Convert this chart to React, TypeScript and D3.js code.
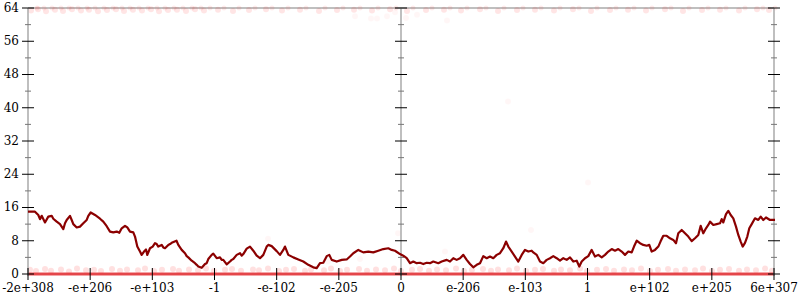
import React from "react";
import * as d3 from "d3";

// x tick labels (evenly spaced in the float-bit ordering)
const xTickLabels = ["-2e+308", "-e+206", "-e+103", "-1", "-e-102", "-e-205", "0", "e-206", "e-103", "1", "e+102", "e+205", "6e+307"];
const yTicks = [0, 4, 8, 12, 16, 20, 24, 28, 32, 36, 40, 44, 48, 52, 56, 60, 64];
const yLabelTicks = [0, 8, 16, 24, 32, 40, 48, 56, 64];

// moving average: [bin, value]; bins 0..746
const movingAverage: [number, number][] = [
  [0, 15.0], [7, 15.0], [10.3, 14.2], [12, 13.2], [13.7, 14.0], [17, 12.4], [20.3, 13.8], [23.7, 14.0],
  [25.3, 13.3], [28.7, 12.6], [32, 12.0], [35.3, 10.8], [37, 12.2], [38.7, 13.0], [42, 14.0], [43.7, 13.0],
  [45.3, 12.0], [48.7, 11.2], [52, 11.4], [55.3, 12.2], [58.7, 13.0], [60.3, 14.0], [62.7, 14.8], [67, 14.2],
  [72, 13.3], [75.3, 12.6], [78.7, 11.5], [82, 10.2], [85.3, 10.0], [88.7, 10.2], [91.3, 9.9], [93.7, 11.0],
  [97, 11.6], [99.3, 11.2], [102, 10.2], [105.3, 10.0], [107, 9.0], [109.3, 6.6], [112, 5.4], [113.7, 4.6],
  [116, 5.4], [118, 5.9], [119.3, 4.6], [122, 6.2], [124.7, 6.6], [127, 7.4], [128.7, 7.2], [130.3, 6.6],
  [133.7, 7.0], [135.3, 6.4], [137, 6.2], [140.3, 7.0], [142, 7.2], [143.7, 7.5], [148.5, 8.0], [150.3, 7.0],
  [153.7, 5.8], [157, 5.0], [158.7, 4.3], [160.3, 4.0], [163.7, 3.2], [167, 2.6], [168.7, 2.2], [170.3, 1.8],
  [173.7, 1.5], [177, 2.4], [178.7, 2.6], [180.3, 3.6], [183.7, 4.6], [185.3, 4.9], [188.7, 3.8], [192, 4.0],
  [193.7, 3.4], [195.3, 3.4], [198.7, 2.3], [202, 3.0], [203.7, 3.4], [205.3, 3.6], [208.7, 4.6], [212, 5.0],
  [213.7, 4.4], [215.3, 4.8], [218.7, 6.1], [222, 6.6], [225.3, 5.6], [228.7, 4.4], [232, 3.8], [235.3, 4.6],
  [238.7, 6.6], [240.3, 7.0], [243.7, 6.7], [248.7, 5.5], [252, 4.6], [255.3, 5.8], [257, 6.6], [260.3, 4.6],
  [265.3, 4.0], [270.3, 3.5], [275.3, 3.0], [280.3, 2.2], [285.3, 1.6], [288.7, 1.4], [292, 2.6], [295.3, 2.7],
  [298.7, 4.3], [301.3, 4.6], [303.7, 3.4], [308.7, 3.0], [313.7, 3.4], [318.7, 3.5], [322, 4.2], [325.3, 5.0],
  [330.3, 5.8], [335.3, 5.2], [340.3, 5.4], [345.3, 5.2], [350.3, 5.6], [355.3, 6.0], [360.3, 6.2], [363.7, 5.8],
  [367, 5.6], [372, 4.8], [375.3, 4.4], [378.7, 3.8], [382, 2.6], [385.3, 3.0], [388.7, 2.6], [392, 2.7],
  [395.3, 2.4], [398.7, 2.7], [402, 2.6], [405.3, 3.0], [410.3, 2.6], [413.7, 3.0], [418.7, 3.4], [422, 3.0],
  [425.3, 3.8], [428.7, 3.4], [432, 3.8], [435.3, 4.6], [438.7, 3.4], [442, 2.4], [445.3, 1.6], [448.7, 2.2],
  [452, 2.6], [455.3, 4.3], [458.7, 3.8], [462, 4.2], [465.3, 3.8], [468.7, 4.6], [472, 5.0], [475.3, 6.2],
  [478, 7.8], [480.3, 6.6], [483.7, 5.4], [487, 4.2], [490.3, 3.0], [493.7, 4.6], [497, 5.8], [500.3, 5.4],
  [503.7, 5.6], [505.3, 5.2], [508.7, 4.6], [512, 3.0], [515.3, 2.6], [518.7, 3.4], [522, 3.8], [525.3, 4.3],
  [528.7, 3.8], [532, 3.2], [535.3, 3.8], [538.7, 3.4], [542, 4.0], [545.3, 3.0], [548.7, 3.2], [551.3, 1.8],
  [553.7, 3.0], [557, 3.8], [560.3, 4.3], [563.7, 5.8], [567, 4.2], [570.3, 4.6], [573.7, 4.0], [577, 4.6],
  [580.3, 5.4], [583.7, 6.0], [587, 5.6], [590.3, 6.0], [593.7, 5.4], [597, 4.6], [600.3, 5.4], [603.7, 5.2],
  [606, 6.6], [608.7, 8.0], [612, 7.4], [615.3, 7.0], [618.7, 6.8], [621.3, 7.0], [623.7, 5.4], [627, 5.8],
  [630.3, 6.6], [632.5, 7.8], [635.3, 9.2], [638.7, 9.2], [642, 8.6], [645.3, 8.2], [648, 7.4], [650.3, 9.8],
  [653.7, 10.6], [657, 9.8], [660.3, 9.0], [663.7, 7.9], [667, 8.6], [670.3, 9.4], [672.7, 11.6], [675.3, 9.8],
  [678, 11.0], [680.3, 11.8], [682, 12.6], [685.3, 11.8], [688.7, 12.0], [692, 12.2], [693.7, 13.2], [695.3, 12.4],
  [698, 14.4], [700.3, 15.2], [702.7, 14.2], [705.3, 13.4], [708, 11.4], [710.3, 9.4], [712.7, 7.8], [714.7, 6.6],
  [717, 7.5], [719.3, 9.0], [721.3, 11.0], [723.7, 12.0], [727, 13.4], [730.3, 13.0], [732.7, 13.8], [735.3, 13.0],
  [738, 13.6], [742, 13.0], [747, 13.0],
];

// faint sample dots just above zero: [bin, value]
const lowDots: [number, number][] = [
  [2, 1.0], [8, 0.7], [17, 1.2], [23, 0.8], [33, 1.1], [41, 0.6], [49, 1.3], [58, 0.9], [66, 1.0], [73, 0.7],
  [84, 1.2], [92, 0.8], [99, 1.1], [110, 0.9], [117, 1.3], [126, 0.7], [134, 1.0], [145, 1.2], [151, 0.8], [161, 1.1],
  [170, 0.9], [178, 1.3], [186, 0.7], [197, 1.0], [204, 1.2], [213, 0.8], [225, 1.1], [231, 0.9], [240, 1.3], [251, 0.7],
  [258, 1.0], [266, 1.2], [277, 0.8], [283, 1.1], [296, 0.9], [303, 1.3], [312, 0.7], [319, 1.0], [331, 1.2], [339, 0.8],
  [348, 1.1], [357, 0.9], [366, 1.3], [373, 0.7], [384, 1.0], [392, 1.2], [401, 0.8], [409, 1.1], [418, 0.9], [428, 1.3],
  [436, 0.7], [444, 1.0], [455, 1.2], [463, 0.8], [470, 1.1], [481, 0.9], [489, 1.3], [498, 0.7], [507, 1.0], [515, 1.2],
  [526, 0.8], [533, 1.1], [542, 0.9], [552, 1.3], [559, 0.7], [569, 1.0], [578, 1.2], [586, 0.8], [596, 1.1], [604, 0.9],
  [613, 1.3], [622, 0.7], [630, 1.0], [640, 1.2], [648, 0.8], [657, 1.1], [667, 0.9], [675, 1.3], [684, 0.7], [692, 1.0],
  [701, 1.2], [711, 0.8], [719, 1.1], [728, 0.9], [737, 1.3], [744, 0.8],
];

// faint sample dots near the top (63-64): [bin, value]
const topDots: [number, number][] = [
  [3, 63.4], [10, 63.7], [18, 63.2], [27, 63.6], [35, 63.3], [44, 63.7], [53, 63.4], [61, 63.6], [70, 63.2], [79, 63.5],
  [88, 63.7], [96, 63.3], [105, 63.6], [114, 63.4], [123, 63.7], [131, 63.2], [140, 63.5], [149, 63.6], [158, 63.3], [167, 63.7],
  [176, 63.4], [190, 63.6], [205, 63.3], [221, 63.5], [238, 63.7], [254, 63.4], [272, 63.6], [291, 63.3], [309, 63.5], [326, 63.6],
  [344, 63.4], [362, 63.7], [379, 63.3], [398, 63.5], [416, 63.6], [433, 63.4], [452, 63.7], [470, 63.3], [489, 63.5], [507, 63.6],
  [526, 63.4], [545, 63.7], [563, 63.3], [582, 63.5], [600, 63.6], [618, 63.4], [637, 63.7], [655, 63.3], [674, 63.5], [692, 63.6],
  [711, 63.4], [729, 63.7], [741, 63.5],
];

// stray faint samples: [bin, value]
const strayDots: [number, number][] = [
  [327, 62.0], [343, 61.5], [349, 61.5], [359, 62.0], [367, 63.0], [378, 61.6], [389, 62.4], [419, 61.0],
  [370, 9.8], [417, 5.4], [332, 3.6], [503, 10.6], [480, 41.5], [240, 8.5], [560, 22.0], [300, 3.0],
];

export default function App() {
  const W = 800, H = 300;
  const x = d3.scaleLinear().domain([0, 746]).range([28, 774]);
  const y = d3.scaleLinear().domain([0, 64]).range([274, 8]);
  const xt = d3.scalePoint<string>().domain(xTickLabels).range([28, 774]);
  const line = d3.line<[number, number]>().x(d => x(d[0])).y(d => y(d[1]));
  const axesX = [28, 401, 774];
  const font = "'DejaVu Serif', serif";

  return (
    <svg width={W} height={H} style={{ position: "absolute", left: 0, top: 0, display: "block", background: "#fff" }}>
      {/* top & bottom frame lines */}
      <line x1={28} x2={774} y1={y(64)} y2={y(64)} stroke="#aaa" strokeWidth={1.5} />
      <line x1={28} x2={774} y1={y(0)} y2={y(0)} stroke="#aaa" strokeWidth={1.5} />

      {/* dots */}
      <g fill="red">
        {topDots.map((d, i) => (
          <circle key={"t" + i} cx={x(d[0])} cy={y(d[1])} r={3} fillOpacity={0.1} />
        ))}
        {topDots.map((d, i) => (
          <circle key={"t2" + i} cx={x(d[0] + 6)} cy={y(64)} r={2.5} fillOpacity={0.08} />
        ))}
        {strayDots.map((d, i) => (
          <circle key={"s" + i} cx={x(d[0])} cy={y(d[1])} r={3} fillOpacity={0.035} />
        ))}
        {lowDots.map((d, i) => (
          <circle key={"l" + i} cx={x(d[0])} cy={y(d[1])} r={3} fillOpacity={0.12} />
        ))}
      </g>
      {/* dense zero band */}
      <path d={line([[0, 0], [746, 0]]) || ""} stroke="#e8383d" strokeWidth={3.2} fill="none" strokeOpacity={0.9} />

      {/* vertical axes */}
      {axesX.map((ax, k) => (
        <g key={"ax" + k}>
          <line x1={ax} x2={ax} y1={y(64)} y2={y(0) + 2} stroke="#aaa" strokeWidth={1.5} />
          {yTicks.map(t => {
            const major = t % 8 === 0;
            const s = major ? 6 : 3;
            return (
              <line key={t} x1={ax - s} x2={ax + s} y1={y(t)} y2={y(t)}
                stroke={major ? "#000" : "#777"} strokeWidth={1} />
            );
          })}
        </g>
      ))}
      {/* y labels */}
      {yLabelTicks.map(t => (
        <text key={"yl" + t} x={19} y={y(t)} dy="0.32em" textAnchor="end" style={{ fontFamily: font }} fontSize={12} fill="#000">
          {t}
        </text>
      ))}
      {/* x ticks & labels */}
      {xTickLabels.map(l => (
        <g key={"xl" + l} transform={`translate(${xt(l)},0)`}>
          <line y1={y(0) - 6} y2={y(0) + 6} stroke="#000" strokeWidth={1} />
          <text y={y(0) + 9} dy="0.71em" textAnchor="middle" style={{ fontFamily: font }} fontSize={12} fill="#000">
            {l}
          </text>
        </g>
      ))}

      {/* moving average line */}
      <path d={line(movingAverage) || ""} fill="none" stroke="#8b0000" strokeWidth={2.2} strokeLinejoin="round" />
    </svg>
  );
}
